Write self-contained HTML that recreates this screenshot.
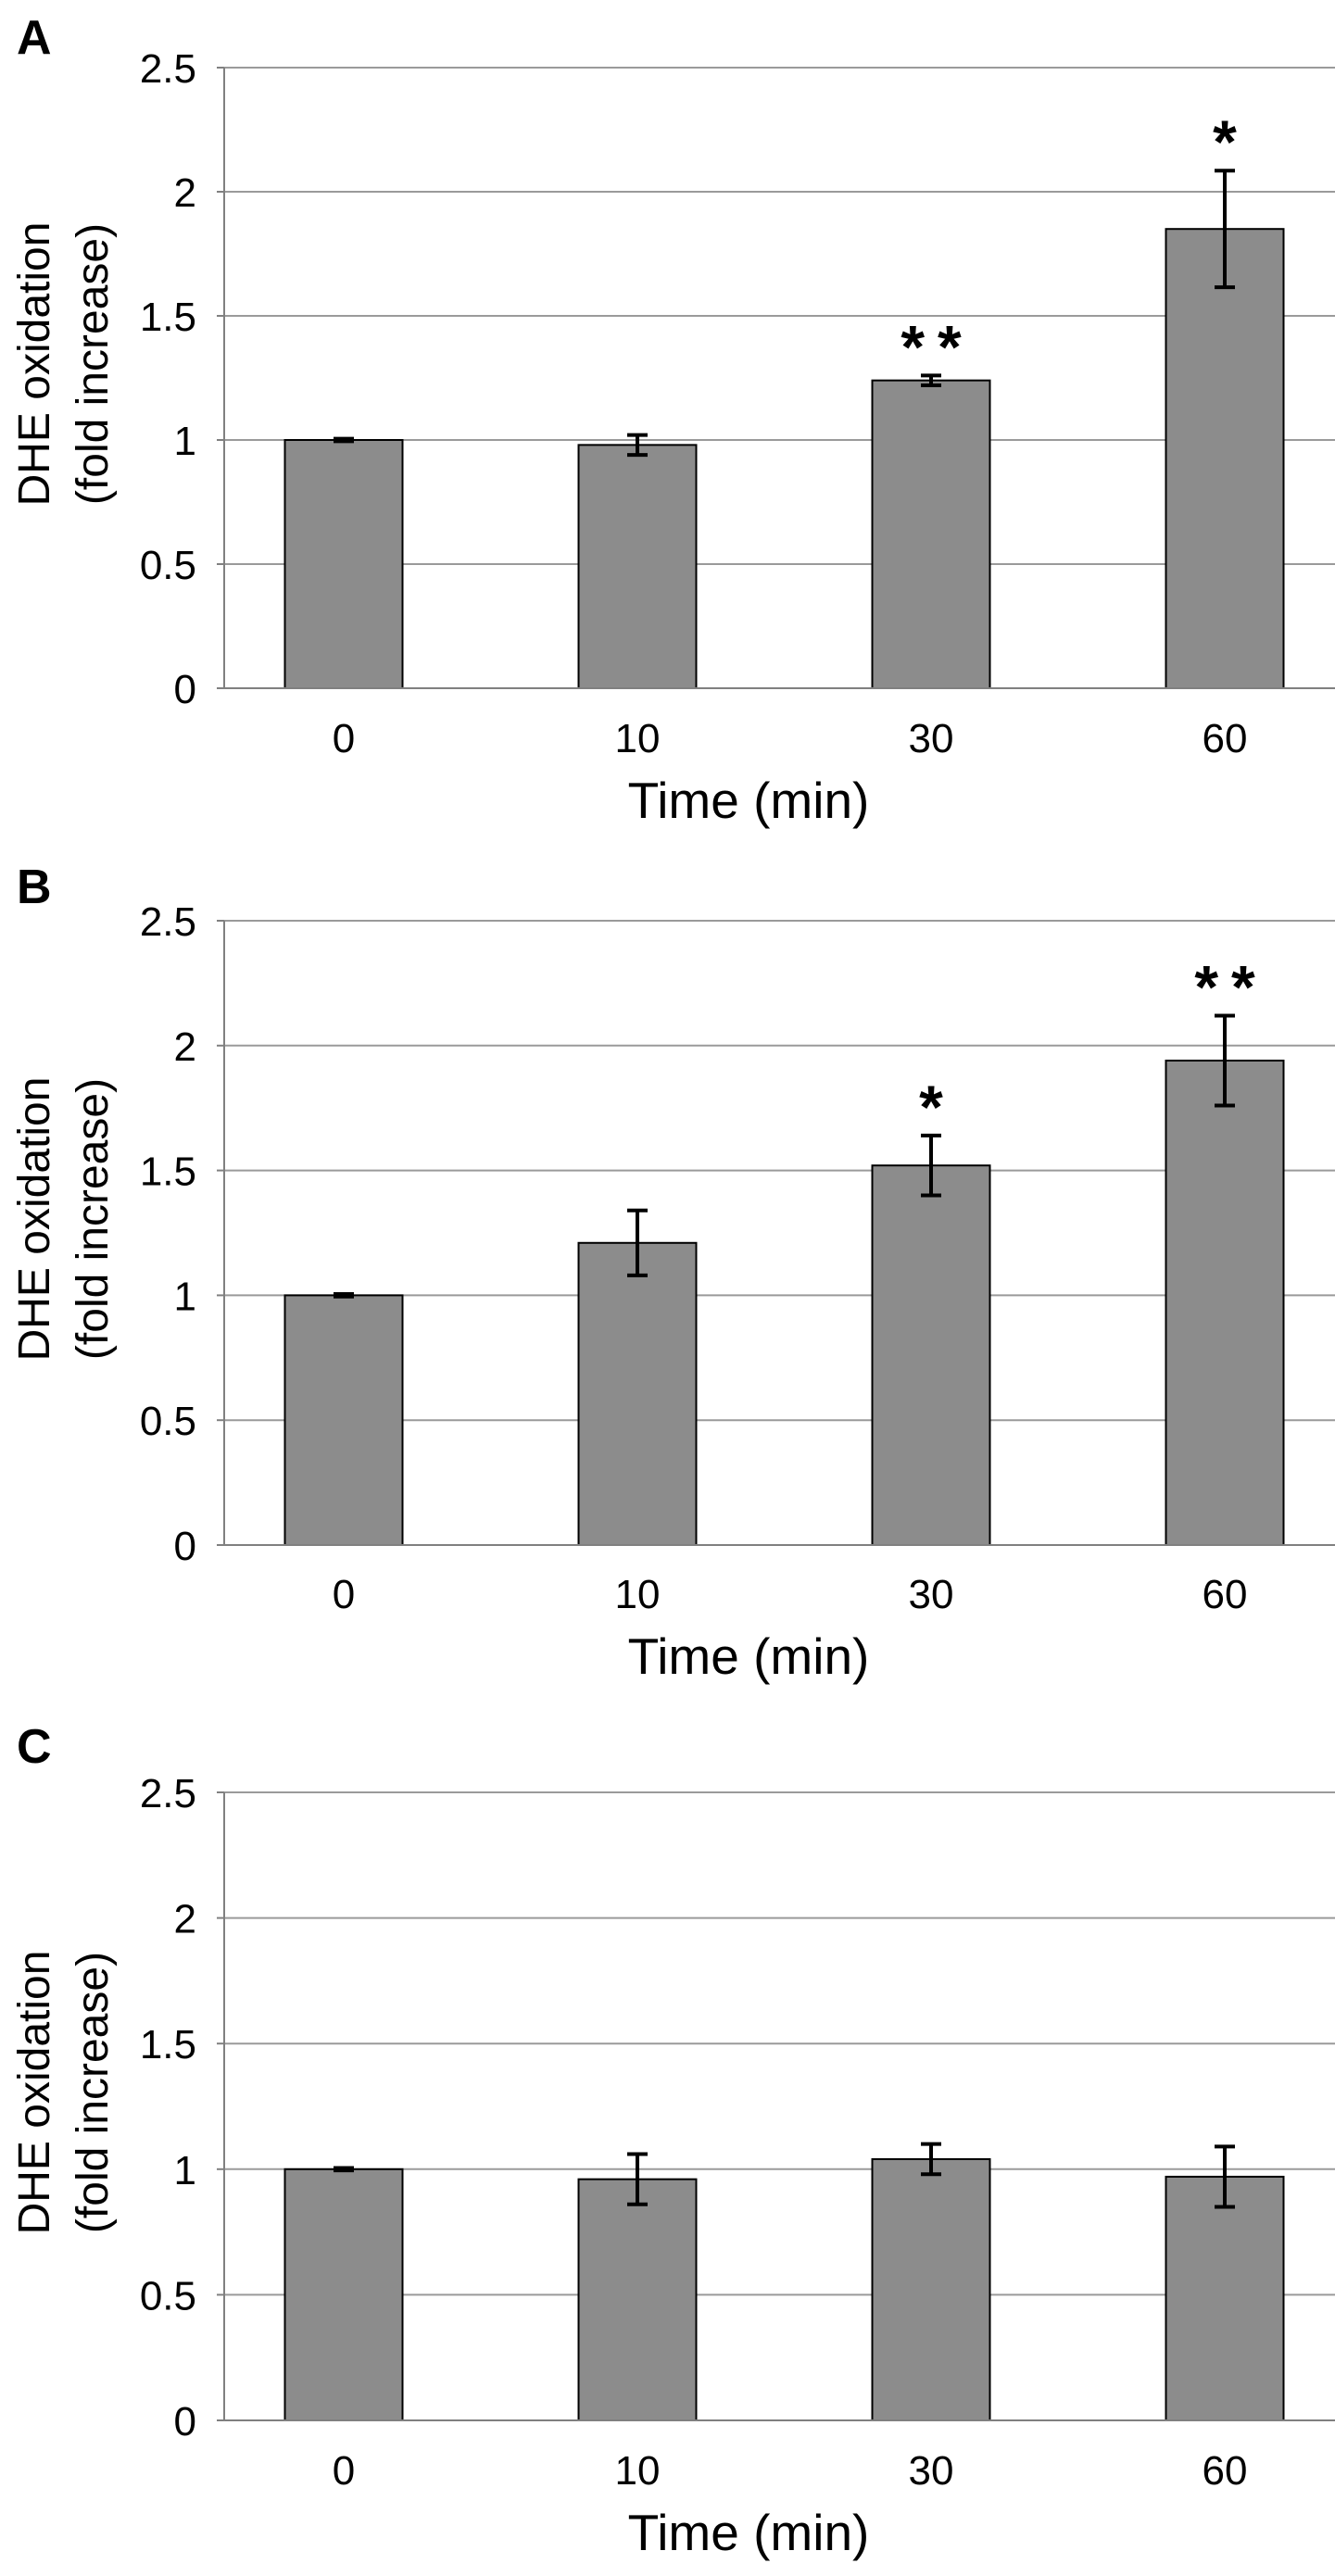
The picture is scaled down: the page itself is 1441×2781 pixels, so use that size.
<!DOCTYPE html>
<html><head><meta charset="utf-8">
<style>
html,body{margin:0;padding:0;background:#fff;}
svg{display:block;font-family:"Liberation Sans",Arial,sans-serif;}
</style></head>
<body>
<svg id="fig" width="1441" height="2781" viewBox="0 0 1441 2781" xmlns="http://www.w3.org/2000/svg"></svg>
<script>
const categories = ["0","10","30","60"];
const yTicks = [0,0.5,1,1.5,2,2.5];
const tickLabels = ["0","0.5","1","1.5","2","2.5"];
const valuesA = [1.0,0.98,1.24,1.85];
const errorsA = [0.005,0.04,0.02,0.235];
const starsA = ["","","**","*"];
const valuesB = [1.0,1.21,1.52,1.94];
const errorsB = [0.005,0.13,0.12,0.18];
const starsB = ["","","*","**"];
const valuesC = [1.0,0.96,1.04,0.97];
const errorsC = [0.005,0.10,0.06,0.12];
const starsC = ["","","",""];

const NS="http://www.w3.org/2000/svg";
const svg=document.getElementById('fig');
function mk(tag,attrs,parent){const e=document.createElementNS(NS,tag);for(const k in attrs)e.setAttribute(k,attrs[k]);(parent||svg).appendChild(e);return e;}

const panels=[
 {letter:"A",top:73,bottom:743,values:valuesA,errors:errorsA,stars:starsA,letterY:58,xLab:796,title:863},
 {letter:"B",top:994,bottom:1668,values:valuesB,errors:errorsB,stars:starsB,letterY:975,xLab:1720,title:1787},
 {letter:"C",top:1935,bottom:2613,values:valuesC,errors:errorsC,stars:starsC,letterY:1903,xLab:2666,title:2733}
];
const axisX=242, rightX=1441, yMax=2.5, barW=127;
function xCenter(i){return 371+i*317;}

panels.forEach(p=>{
  const g=mk('g',{});
  
  
  const y=v=>p.bottom-(v/yMax)*(p.bottom-p.top);
  const lt=mk('text',{x:18,y:p.letterY,'font-size':52,'font-weight':'bold',fill:'#000'},g);
  lt.textContent=p.letter;
  
  
  yTicks.forEach((t,i)=>{
    if(t>0){const gl=mk('line',{x1:axisX,x2:rightX,y1:y(t),y2:y(t),stroke:'#9a9a9a','stroke-width':2},g);
      
      }
    const tk=mk('line',{x1:axisX-8,x2:axisX,y1:y(t),y2:y(t),stroke:'#808080','stroke-width':2},g);
    
    
    const tl=mk('text',{x:212,y:y(t)+16,'font-size':44,'text-anchor':'end',fill:'#000'},g);
    tl.textContent=tickLabels[i];
    
    
  });
  const ya=mk('line',{x1:axisX,x2:axisX,y1:p.top,y2:p.bottom,stroke:'#808080','stroke-width':2},g);
  
  
  categories.forEach((c,i)=>{
    const cx=xCenter(i),v=p.values[i],e=p.errors[i];
    const b=mk('rect',{x:cx-barW/2,y:y(v),width:barW,height:p.bottom-y(v),fill:'#8c8c8c',stroke:'#000','stroke-width':2},g);
    
    
    const eg=mk('g',{stroke:'#000','stroke-width':4},g);
    
    
    mk('line',{x1:cx,x2:cx,y1:y(v+e),y2:y(v-e)},eg);
    mk('line',{x1:cx-11,x2:cx+11,y1:y(v+e),y2:y(v+e)},eg);
    mk('line',{x1:cx-11,x2:cx+11,y1:y(v-e),y2:y(v-e)},eg);
    if(p.stars[i]){
      const n=p.stars[i].length;
      const s=mk('text',{x:cx+(n>1?7:0),y:y(v+e)-8,'font-size':66,'font-weight':'bold','text-anchor':'middle','letter-spacing':n>1?14:0,fill:'#000'},g);
      s.textContent=p.stars[i];
      
      
    }
    const xl=mk('text',{x:cx,y:p.xLab+16,'font-size':44,'text-anchor':'middle',fill:'#000'},g);
    xl.textContent=c;
    
    
  });
  const xa=mk('line',{x1:axisX,x2:rightX,y1:p.bottom,y2:p.bottom,stroke:'#808080','stroke-width':2},g);
  
  
  const xt=mk('text',{x:808,y:p.title+20,'font-size':55,'text-anchor':'middle',fill:'#000'},g);
  xt.textContent="Time (min)";
  
  
  const cy=(p.top+p.bottom)/2-15;
  const yt=mk('text',{transform:`translate(53,${cy}) rotate(-90)`,'font-size':48,'text-anchor':'middle',fill:'#000'},g);
  yt.textContent="DHE oxidation";
  
  
  const yt2=mk('text',{transform:`translate(116,${cy}) rotate(-90)`,'font-size':48,'text-anchor':'middle',fill:'#000'},g);
  yt2.textContent="(fold increase)";
  
  
});
</script>
</body></html>
